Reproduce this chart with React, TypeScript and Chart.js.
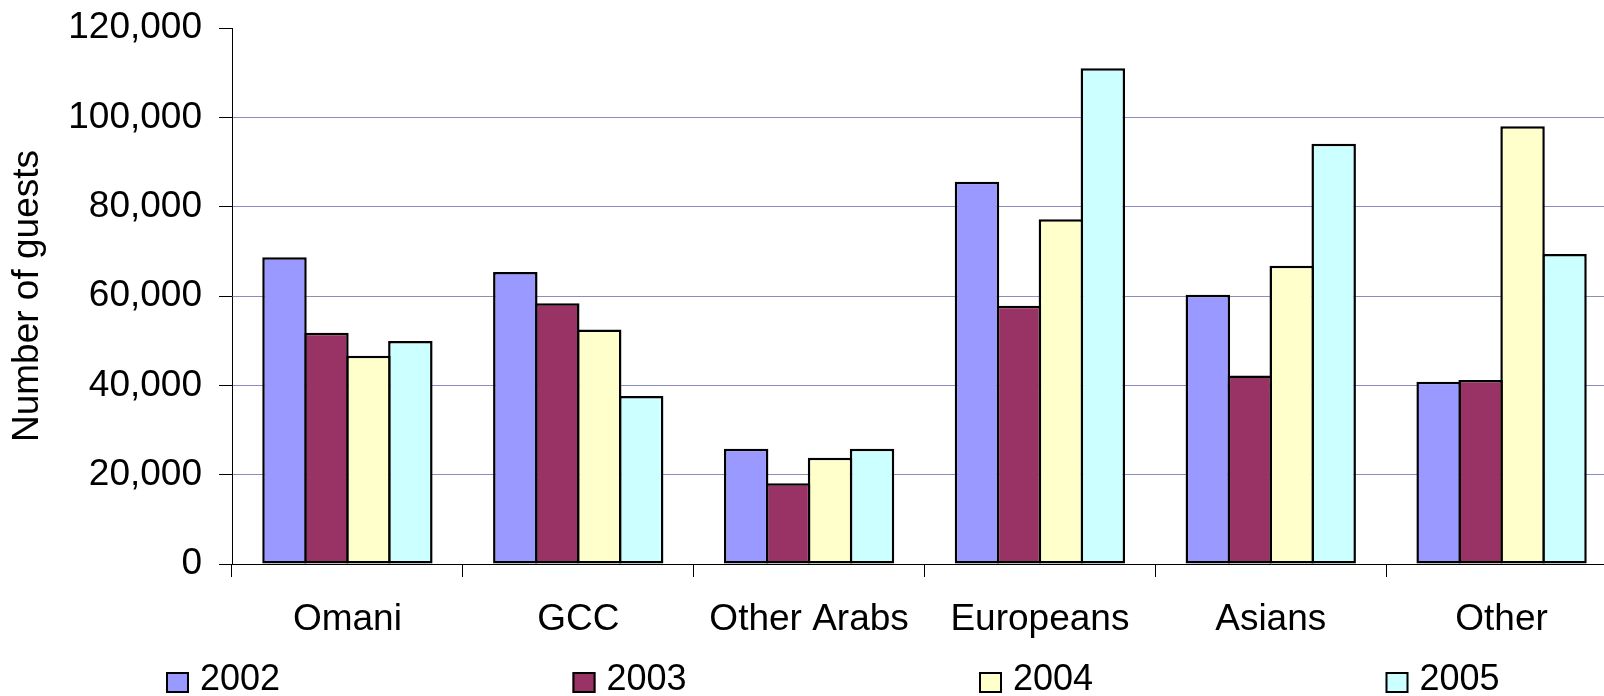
import React, { useEffect, useRef } from 'react';
import { Chart, registerables } from 'chart.js';

Chart.register(...registerables);

const categories = ['Omani', 'GCC', 'Other Arabs', 'Europeans', 'Asians', 'Other'];
const seriesLabels = ['2002', '2003', '2004', '2005'];
const values2002 = [68700, 65400, 25800, 85600, 60300, 40800];
const values2003 = [51800, 58400, 18100, 57800, 42200, 41200];
const values2004 = [46600, 52500, 23800, 77200, 66800, 98000];
const values2005 = [49900, 37600, 25800, 111000, 94100, 69400];
const seriesColors = ['#9999FF', '#993366', '#FFFFCC', '#CCFFFF'];
const yTickValues = [0, 20000, 40000, 60000, 80000, 100000, 120000];
const yAxisTitle = 'Number of guests';

const FONT = "'Liberation Sans', Arial, Helvetica, sans-serif";
const CANVAS_W = 1640;
const CANVAS_H = 696;
const GRID = '#8c8cc0';

const spreadLegend = {
  id: 'spreadLegend',
  afterDraw(chart: any) {
    const ctx = chart.ctx;
    const x0 = 166;
    const step = 406.5;
    const yMid = 680;
    ctx.save();
    chart.data.datasets.forEach((ds: any, i: number) => {
      const x = x0 + i * step;
      ctx.fillStyle = ds.backgroundColor;
      ctx.fillRect(x, 672, 23, 21);
      ctx.strokeStyle = '#000';
      ctx.lineWidth = 2;
      ctx.strokeRect(x + 1, 673, 21, 19);
      ctx.fillStyle = '#000';
      ctx.font = `36px ${FONT}`;
      ctx.textAlign = 'left';
      ctx.textBaseline = 'middle';
      ctx.fillText(ds.label, x + 34, yMid);
    });
    ctx.restore();
  },
};

export default function App() {
  const ref = useRef<HTMLCanvasElement>(null);

  useEffect(() => {
    const seriesValues = [values2002, values2003, values2004, values2005];
    const chart = new Chart(ref.current as HTMLCanvasElement, {
      type: 'bar',
      data: {
        labels: categories,
        datasets: seriesLabels.map((label, i) => ({
          label,
          data: seriesValues[i],
          backgroundColor: seriesColors[i],
          borderColor: '#000',
          borderWidth: 2.5,
          borderSkipped: false,
          barPercentage: 1.06,
          categoryPercentage: 0.727,
        })),
      },
      options: {
        animation: false,
        responsive: true,
        maintainAspectRatio: false,
        layout: { padding: { top: 28, right: 23, left: 0, bottom: 0 } },
        plugins: {
          legend: { display: false },
          tooltip: { enabled: false },
        },
        scales: {
          x: {
            grid: {
              display: true,
              drawOnChartArea: false,
              offset: true,
              tickLength: 13,
              tickColor: '#000',
              color: '#000',
            },
            border: { color: '#000', width: 1 },
            ticks: {
              font: { family: FONT, size: 37 },
              color: '#000',
              padding: 21,
              maxRotation: 0,
              autoSkip: false,
            },
            afterFit: (s: any) => {
              s.height = 132;
              s.paddingLeft = 0;
              s.paddingRight = 0;
            },
          },
          y: {
            min: 0,
            max: 120000,
            afterBuildTicks: (s: any) => {
              s.ticks = yTickValues.map((v) => ({ value: v }));
            },
            ticks: {
              font: { family: FONT, size: 37 },
              color: '#000',
              padding: 17,
              callback: (v: any) => Number(v).toLocaleString('en-US'),
            },
            grid: {
              color: (c: any) => (c.tick && c.tick.value === 120000 ? 'rgba(0,0,0,0)' : GRID),
              tickColor: '#000',
              tickLength: 13,
              lineWidth: 1,
            },
            border: { color: '#000', width: 1 },
            title: {
              display: true,
              text: yAxisTitle,
              font: { family: FONT, size: 37 },
              color: '#000',
              padding: { top: 6, bottom: 0 },
            },
            afterFit: (s: any) => {
              s.width = 232;
              s.paddingTop = 0;
              s.paddingBottom = 0;
            },
          },
        },
      },
      plugins: [spreadLegend],
    });
    return () => chart.destroy();
  }, []);

  return (
    <div
      style={{
        position: 'fixed',
        left: 0,
        top: 0,
        width: 1604,
        height: CANVAS_H,
        overflow: 'hidden',
        background: '#fff',
      }}
    >
      <div style={{ position: 'relative', width: CANVAS_W, height: CANVAS_H }}>
        <canvas ref={ref} />
      </div>
    </div>
  );
}
